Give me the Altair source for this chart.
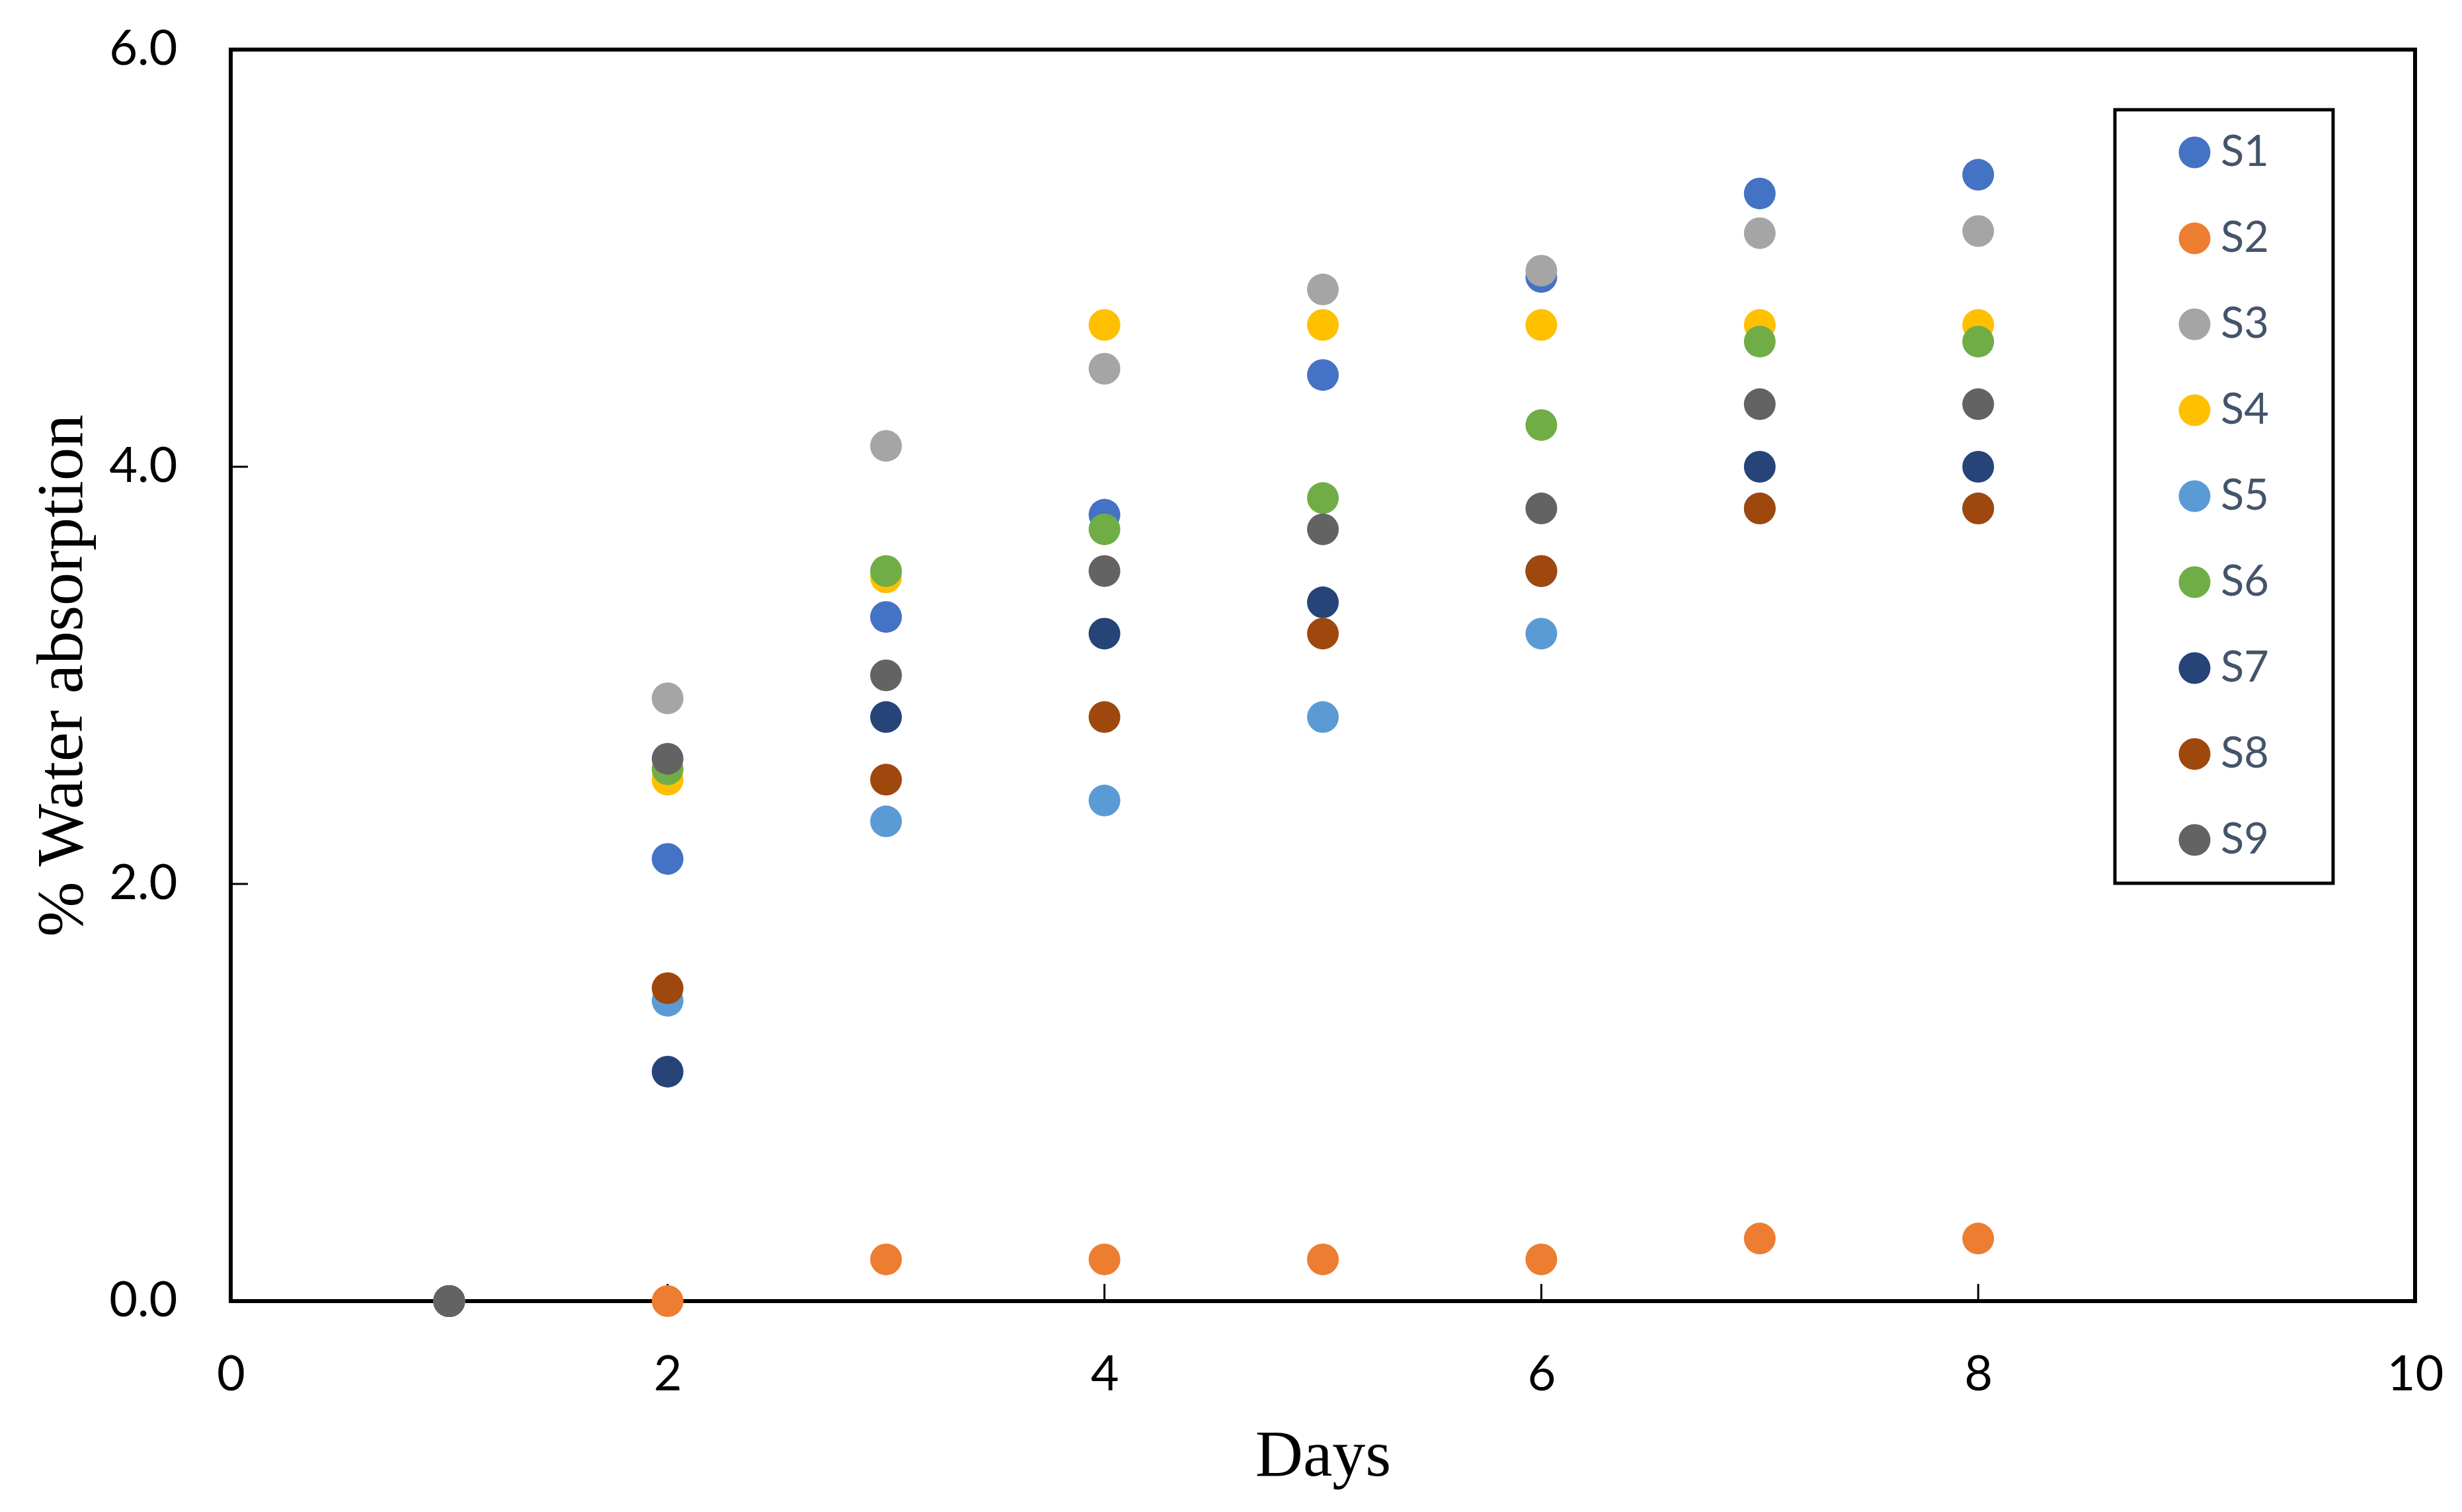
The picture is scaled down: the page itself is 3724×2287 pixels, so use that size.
import altair as alt
import pandas as pd

days = [1, 2, 3, 4, 5, 6, 7, 8]
series_names = ["S1", "S2", "S3", "S4", "S5", "S6", "S7", "S8", "S9"]
S1 = [0, 2.12, 3.28, 3.77, 4.44, 4.91, 5.31, 5.40]
S2 = [0, 0, 0.20, 0.20, 0.20, 0.20, 0.30, 0.30]
S3 = [0, 2.89, 4.10, 4.47, 4.85, 4.94, 5.12, 5.13]
S4 = [0, 2.50, 3.47, 4.68, 4.68, 4.68, 4.68, 4.68]
S5 = [0, 1.44, 2.30, 2.40, 2.80, 3.20, 3.80, 3.80]
S6 = [0, 2.55, 3.50, 3.70, 3.85, 4.20, 4.60, 4.60]
S7 = [0, 1.10, 2.80, 3.20, 3.35, 3.50, 4.00, 4.00]
S8 = [0, 1.50, 2.50, 2.80, 3.20, 3.50, 3.80, 3.80]
S9 = [0, 2.60, 3.00, 3.50, 3.70, 3.80, 4.30, 4.30]
colors = ["#4472C4", "#ED7D31", "#A5A5A5", "#FFC000", "#5B9BD5",
          "#70AD47", "#264478", "#9E480E", "#636363"]
x_ticks = [0, 2, 4, 6, 8, 10]
y_ticks = [0, 2, 4, 6]
x_inner_ticks = [2, 4, 6, 8]
y_inner_ticks = [2, 4]

all_series = [S1, S2, S3, S4, S5, S6, S7, S8, S9]
rows = []
for order, (name, vals) in enumerate(zip(series_names, all_series)):
    for d, v in zip(days, vals):
        rows.append({"Days": d, "Absorption": v, "Series": name, "order": order})
df = pd.DataFrame(rows)

W, H = 3304, 1893

xscale = alt.Scale(domain=[0, 10], nice=False)
yscale = alt.Scale(domain=[0, 6], nice=False)

xaxis = alt.Axis(values=x_ticks, format="d", domain=False, ticks=False, tickSize=0,
                 grid=False, labelFont="Lato", labelFontSize=74, labelColor="black",
                 labelBaseline="alphabetic", labelPadding=134, labelFlush=False,
                 labelOverlap=False,
                 title="Days", titleFont="Liberation Serif", titleFontSize=100,
                 titleFontWeight="normal", titleColor="black",
                 titleX=W / 2, titleY=263, titleBaseline="alphabetic")
yaxis = alt.Axis(values=y_ticks, format=".1f", domain=False, ticks=False, tickSize=0,
                 grid=False, labelFont="Lato", labelFontSize=74, labelColor="black",
                 labelPadding=81, labelBaseline="middle", labelFlush=False,
                 labelOverlap=False,
                 title="% Water absorption", titleFont="Liberation Serif",
                 titleFontSize=100, titleFontWeight="normal", titleColor="black",
                 titleX=-226, titleY=H / 2, titleBaseline="alphabetic", titleAngle=270)

points = alt.Chart(df).mark_circle(size=2304, opacity=1).encode(
    x=alt.X("Days:Q", scale=xscale, axis=xaxis),
    y=alt.Y("Absorption:Q", scale=yscale, axis=yaxis),
    color=alt.Color("Series:N",
                    scale=alt.Scale(domain=series_names, range=colors),
                    legend=alt.Legend(orient="none", legendX=2850, legendY=91,
                                      title=None, symbolType="circle",
                                      symbolSize=2304, symbolOffset=56,
                                      labelOffset=7, labelLimit=400,
                                      labelExpr="datum.label + '\u00a0\u2800'")),
    order=alt.Order("order:Q"),
)

xt = pd.DataFrame({"Days": x_inner_ticks})
yt = pd.DataFrame({"Absorption": y_inner_ticks})

xtick_rules = alt.Chart(xt).mark_rule(color="black", strokeWidth=3).encode(
    x=alt.X("Days:Q", scale=xscale, axis=xaxis),
    y=alt.value(H - 26),
    y2=alt.value(H),
)
ytick_rules = alt.Chart(yt).mark_rule(color="black", strokeWidth=3).encode(
    y=alt.Y("Absorption:Q", scale=yscale, axis=yaxis),
    x=alt.value(0),
    x2=alt.value(26),
)

chart = alt.layer(xtick_rules, ytick_rules, points).properties(
    width=W, height=H,
    autosize=alt.AutoSizeParams(type="none"),
    padding={"left": 341, "top": 67, "right": 50, "bottom": 300},
).configure_view(
    stroke="black", strokeWidth=6
).configure_legend(
    strokeColor="black", strokeWidth=5, padding=32, rowPadding=64,
    labelFont="Lato", labelFontSize=65, labelColor="#44546A",
    symbolStrokeWidth=0, symbolOpacity=1, fillColor="white",
)

chart.save("out.html", embed_options={"renderer": "svg", "actions": False})
